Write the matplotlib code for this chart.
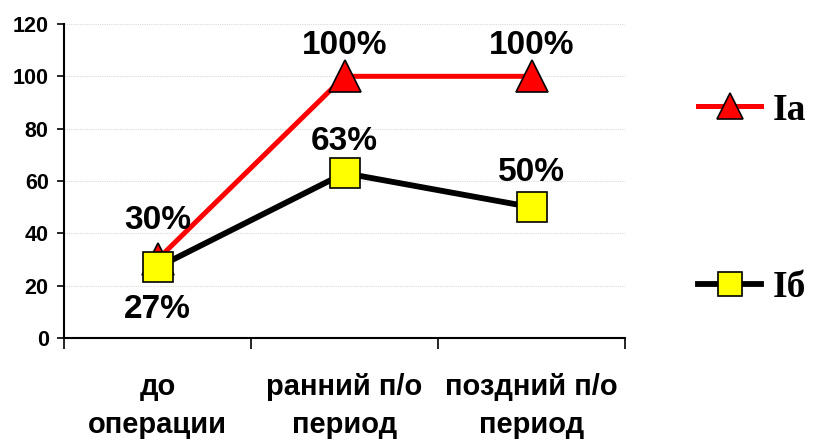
import numpy as np
import matplotlib
matplotlib.use('Agg')
import matplotlib.pyplot as plt
from matplotlib.ticker import FixedLocator

categories = ['до\nоперации', 'ранний п/о\nпериод', 'поздний п/о\nпериод']
seriesIa = [30, 100, 100]
seriesIb = [27, 63, 50]
labelsIa = ['30%', '100%', '100%']
labelsIb = ['27%', '63%', '50%']
yticks = [0, 20, 40, 60, 80, 100, 120]

plt.rcParams['font.family'] = ['Liberation Sans', 'DejaVu Sans']
plt.rcParams['font.weight'] = 'bold'

fig = plt.figure(figsize=(8.14, 4.41), dpi=100, facecolor='w')
ax = fig.add_axes([0.0786, 0.2336, 0.6894, 0.712])

x = np.arange(len(categories))
lineA, = ax.plot(x, seriesIa, color='#ff0000', lw=3.6, marker='^', ms=23,
                 mfc='#ff0000', mec='k', mew=1.2, zorder=3)
lineB, = ax.plot(x, seriesIb, color='k', lw=4.2, marker='s', ms=21,
                 mfc='#ffff00', mec='k', mew=1.2, zorder=4)

# data labels
offsA = [28, 22, 22]
offsB = [-30, 23, 25]
for xi, v, t, o in zip(x, seriesIa, labelsIa, offsA):
    ax.annotate(t, (xi, v), xytext=(0, o), textcoords='offset points',
                ha='center', va='center', fontsize=24, fontweight='bold', zorder=5)
for xi, v, t, o in zip(x, seriesIb, labelsIb, offsB):
    ax.annotate(t, (xi, v), xytext=(0, o), textcoords='offset points',
                ha='center', va='center', fontsize=24, fontweight='bold', zorder=5)

ax.set_xlim(-0.5, 2.5)
ax.set_ylim(0, 120)
ax.set_yticks(yticks)
ax.tick_params(axis='y', labelsize=15.5, length=5, width=1.2, pad=6)
ax.xaxis.set_major_locator(FixedLocator([-0.5, 0.5, 1.5, 2.5]))
ax.xaxis.set_minor_locator(FixedLocator(list(x)))
ax.tick_params(axis='x', which='major', length=8, width=1.2, labelbottom=False)
ax.tick_params(axis='x', which='minor', length=0, pad=25)
ax.set_xticklabels(categories, minor=True, fontsize=21, fontweight='bold',
                   linespacing=1.45)

for side in ['top', 'right']:
    ax.spines[side].set_visible(False)
for side in ['left', 'bottom']:
    ax.spines[side].set_linewidth(1.5)

ax.grid(axis='y', color='#d9d9d9', ls=(0, (1, 1)), lw=0.8)
ax.set_axisbelow(True)

leg = fig.legend([lineA, lineB], ['Iа', 'Iб'], loc='upper left',
                 bbox_to_anchor=(0.8575, 0.79), frameon=False, borderpad=0,
                 borderaxespad=0, handlelength=1.68, labelspacing=3.8,
                 handletextpad=0.3,
                 prop={'family': ['Liberation Serif'], 'weight': 'bold', 'size': 27},
                 markerscale=0.8)

fig.savefig('out.png', dpi=100)
